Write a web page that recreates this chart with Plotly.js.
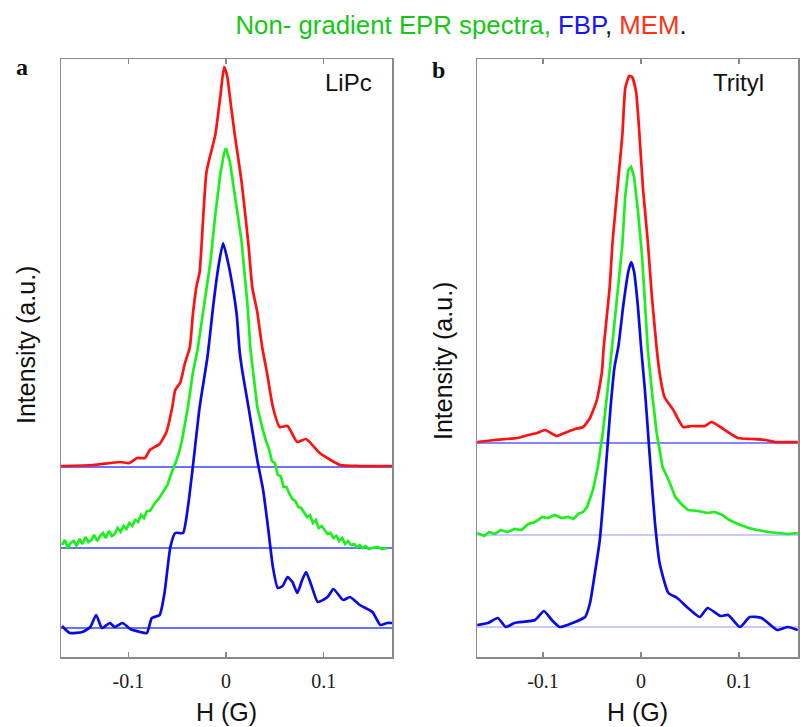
<!DOCTYPE html>
<html>
<head>
<meta charset="utf-8">
<script src="https://cdn.plot.ly/plotly-3.0.1.min.js"></script>
<style>html,body{margin:0;padding:0;background:#fff;}#chart{width:800px;height:727px;}</style>
</head>
<body>
<div id="chart"></div>
<script>
// ---------- Panel a (LiPc) ----------
const redA_x = [-0.169,-0.136,-0.109,-0.099,-0.091,-0.083,-0.078,-0.068,-0.061,-0.055,-0.052,-0.047,-0.042,-0.037,-0.034,-0.030,-0.027,-0.020,-0.011,-0.006,-0.002,0.001,0.005,0.009,0.016,0.023,0.027,0.032,0.037,0.042,0.048,0.055,0.063,0.073,0.082,0.096,0.117,0.137,0.170];
const redA_y = [191,192,195,194,199,199,207,213,225,250,267,274,294,310,342,372,385,485,522,559,590,582,552,522,475,412,369,345,310,284,250,230,231,215,218,204,192,191,191];

const greenA_x = [-0.168,-0.165,-0.162,-0.159,-0.156,-0.153,-0.150,-0.147,-0.144,-0.141,-0.138,-0.135,-0.132,-0.129,-0.126,-0.123,-0.120,-0.117,-0.114,-0.111,-0.108,-0.105,-0.102,-0.099,-0.096,-0.093,-0.090,-0.087,-0.084,-0.081,-0.078,-0.075,-0.072,-0.069,-0.066,-0.063,-0.060,-0.057,-0.054,-0.051,-0.048,-0.045,-0.039,-0.034,-0.029,-0.024,-0.016,-0.011,-0.006,-0.002,0.000,0.002,0.004,0.009,0.016,0.022,0.025,0.032,0.035,0.038,0.041,0.044,0.047,0.050,0.053,0.056,0.059,0.062,0.065,0.068,0.071,0.074,0.077,0.080,0.083,0.086,0.089,0.092,0.095,0.098,0.101,0.104,0.107,0.110,0.113,0.116,0.119,0.122,0.125,0.128,0.131,0.134,0.137,0.140,0.143,0.146,0.150,0.155,0.160,0.165];
const greenA_y = [112,117,109,114,116,111,118,113,120,115,117,122,116,121,124,119,126,121,123,129,125,131,128,134,131,137,135,142,139,146,146,151,155,158,163,167,172,181,188,196,205,217,250,284,308,342,395,442,482,504,509,502,495,462,415,352,308,250,237,226,216,208,196,194,182,181,170,170,163,158,156,150,149,145,140,142,134,137,129,131,127,123,124,119,121,116,119,113,116,112,113,110,112,109,111,108,109,110,108,109];

const blueA_x = [-0.168,-0.160,-0.147,-0.139,-0.133,-0.127,-0.119,-0.114,-0.106,-0.098,-0.088,-0.081,-0.076,-0.068,-0.063,-0.057,-0.052,-0.044,-0.039,-0.034,-0.027,-0.019,-0.013,-0.008,-0.003,0.002,0.007,0.011,0.014,0.017,0.023,0.032,0.038,0.043,0.048,0.053,0.058,0.063,0.068,0.073,0.078,0.082,0.088,0.094,0.104,0.110,0.120,0.127,0.137,0.150,0.158,0.165,0.170];
const blueA_y = [31,24,25,30,42,29,34,30,34,28,25,24,39,42,64,110,124,124,150,190,250,300,352,389,414,395,369,342,305,284,250,197,167,130,90,69,71,80,75,64,77,85,70,55,60,68,57,60,52,45,32,34,34];

const baselinesA = [190,109,29];   // MEM, non-gradient, FBP
const rangeA_x = [-0.169,0.170];

// ---------- Panel b (Trityl) ----------
const redB_x = [-0.167,-0.149,-0.126,-0.115,-0.106,-0.098,-0.086,-0.078,-0.067,-0.059,-0.052,-0.045,-0.040,-0.038,-0.032,-0.029,-0.024,-0.019,-0.016,-0.012,-0.009,-0.005,-0.002,0.002,0.007,0.011,0.016,0.019,0.024,0.033,0.043,0.052,0.065,0.072,0.081,0.099,0.113,0.127,0.137,0.160];
const redB_y = [215,217,219,222,224,227,221,224,228,230,239,257,284,310,369,415,469,522,569,581,580,565,529,469,415,362,309,284,260,247,230,231,231,235,230,219,218,217,215,215];

const greenB_x = [-0.167,-0.160,-0.155,-0.149,-0.143,-0.136,-0.129,-0.122,-0.115,-0.108,-0.101,-0.095,-0.088,-0.081,-0.074,-0.069,-0.064,-0.059,-0.055,-0.049,-0.044,-0.039,-0.034,-0.030,-0.024,-0.019,-0.016,-0.013,-0.010,-0.007,-0.003,0.001,0.004,0.007,0.011,0.016,0.022,0.029,0.035,0.042,0.048,0.058,0.068,0.075,0.083,0.090,0.099,0.110,0.119,0.130,0.140,0.150,0.160];
const greenB_y = [124,121,125,123,127,125,128,127,133,135,140,139,142,139,140,138,143,145,150,167,190,224,267,307,362,412,462,487,490,480,445,402,355,307,267,224,190,175,160,152,147,146,144,145,142,137,133,129,127,125,124,123,124];

const blueB_x = [-0.167,-0.156,-0.146,-0.138,-0.129,-0.108,-0.099,-0.091,-0.083,-0.070,-0.057,-0.052,-0.047,-0.042,-0.039,-0.035,-0.031,-0.027,-0.023,-0.018,-0.013,-0.010,-0.007,-0.003,0.000,0.004,0.009,0.014,0.019,0.028,0.037,0.048,0.060,0.068,0.081,0.089,0.101,0.111,0.123,0.139,0.150,0.160];
const blueB_y = [32,34,39,30,34,37,46,37,30,34,40,54,84,117,150,200,250,290,311,352,385,395,385,349,311,267,200,137,94,64,59,49,40,49,41,42,30,40,39,27,30,27];

const baselinesB = [214,122,30];
const rangeB_x = [-0.1673,0.1602];

const tickVals = [-0.1,0,0.1];
const tickText = ['-0.1','0','0.1'];

const RED = '#ff1111', GREEN = '#1cf01c', BLUE = '#0a0ae8';

function baseTrace(range, y, color, xa, ya, w) {
  return {x: range, y: [y,y], xaxis: xa, yaxis: ya, mode: 'lines',
          line: {color: color, width: w}, hoverinfo: 'skip', showlegend: false};
}
function curve(x, y, color, xa, ya, smooth) {
  return {x: x, y: y, xaxis: xa, yaxis: ya, mode: 'lines', showlegend: false,
          line: {color: color, width: 2.7, shape: smooth ? 'spline' : 'linear', smoothing: 0.5}};
}

const traces = [
  baseTrace(rangeA_x, baselinesA[0], '#3344ff', 'x', 'y', 1.3),
  baseTrace(rangeA_x, baselinesA[1], '#3344ff', 'x', 'y', 1.3),
  baseTrace(rangeA_x, baselinesA[2], '#3344ff', 'x', 'y', 1.3),
  baseTrace(rangeB_x, baselinesB[0], '#5b5bff', 'x2', 'y2', 1.5),
  baseTrace(rangeB_x, baselinesB[1], '#b6baff', 'x2', 'y2', 1.6),
  baseTrace(rangeB_x, baselinesB[2], '#b6baff', 'x2', 'y2', 1.6),
  curve(redA_x, redA_y, RED, 'x', 'y', true),
  curve(greenA_x, greenA_y, GREEN, 'x', 'y', false),
  curve(blueA_x, blueA_y, BLUE, 'x', 'y', true),
  curve(redB_x, redB_y, RED, 'x2', 'y2', true),
  curve(greenB_x, greenB_y, GREEN, 'x2', 'y2', false),
  curve(blueB_x, blueB_y, BLUE, 'x2', 'y2', true)
];

const yDom = [70/727, 668/727];
function xAxis(dom, range, anchor) {
  return {domain: dom, range: range, anchor: anchor, tickvals: tickVals, ticktext: tickText,
          ticks: 'inside', ticklen: 5, tickwidth: 1.2, tickcolor: '#888',
          showline: true, linecolor: '#8a8a8a', linewidth: 1.5, mirror: 'ticks',
          showgrid: false, zeroline: false, ticklabelstandoff: 5,
          tickfont: {family: 'Liberation Serif, Times New Roman, serif', size: 20, color: '#1a1a1a'},
          title: {text: 'H (G)', standoff: 13, font: {family: 'Liberation Sans, Arial, sans-serif', size: 25, color: '#111'}}};
}
function yAxis(anchor) {
  return {domain: yDom, range: [0, 598], anchor: anchor, showticklabels: false, ticks: '',
          showline: true, linecolor: '#8a8a8a', linewidth: 1.5, mirror: true,
          showgrid: false, zeroline: false};
}
const yTitleFont = {family: 'Liberation Sans, Arial, sans-serif', size: 25, color: '#111'};

const layout = {
  width: 800, height: 727,
  margin: {l: 0, r: 0, t: 0, b: 0},
  paper_bgcolor: '#fff', plot_bgcolor: '#fff',
  showlegend: false,
  title: {
    text: "<span style='color:#14c814'>Non- gradient EPR spectra, </span><span style='color:#1414ff'>FBP</span>, <span style='color:#ff3314'>MEM</span>.",
    x: 461/800, xanchor: 'center', y: 1 - 25/727, yanchor: 'middle',
    font: {family: 'Liberation Sans, Arial, sans-serif', size: 25.8, color: '#111'}
  },
  xaxis: xAxis([61/800, 392/800], rangeA_x, 'y'),
  yaxis: yAxis('x'),
  xaxis2: xAxis([477/800, 798/800], rangeB_x, 'y2'),
  yaxis2: yAxis('x2'),
  annotations: [
    {text: 'Intensity (a.u.)', textangle: -90, x: 26/800, y: 1 - 345/727, xref: 'paper', yref: 'paper', showarrow: false,
     xanchor: 'center', yanchor: 'middle', font: yTitleFont},
    {text: 'Intensity (a.u.)', textangle: -90, x: 443/800, y: 1 - 361/727, xref: 'paper', yref: 'paper', showarrow: false,
     xanchor: 'center', yanchor: 'middle', font: yTitleFont},
    {text: '<b>a</b>', x: 22/800, y: 1 - 67/727, xref: 'paper', yref: 'paper', showarrow: false,
     xanchor: 'center', yanchor: 'middle', font: {family: 'Liberation Serif, Times New Roman, serif', size: 24, color: '#111'}},
    {text: '<b>b</b>', x: 439/800, y: 1 - 70/727, xref: 'paper', yref: 'paper', showarrow: false,
     xanchor: 'center', yanchor: 'middle', font: {family: 'Liberation Serif, Times New Roman, serif', size: 24, color: '#111'}},
    {text: 'LiPc', x: 348/800, y: 1 - 82/727, xref: 'paper', yref: 'paper', showarrow: false,
     xanchor: 'center', yanchor: 'middle', font: {family: 'Liberation Sans, Arial, sans-serif', size: 24, color: '#111'}},
    {text: 'Trityl', x: 738/800, y: 1 - 82/727, xref: 'paper', yref: 'paper', showarrow: false,
     xanchor: 'center', yanchor: 'middle', font: {family: 'Liberation Sans, Arial, sans-serif', size: 24, color: '#111'}}
  ]
};

Plotly.newPlot('chart', traces, layout, {displayModeBar: false, staticPlot: true});
</script>
</body>
</html>
